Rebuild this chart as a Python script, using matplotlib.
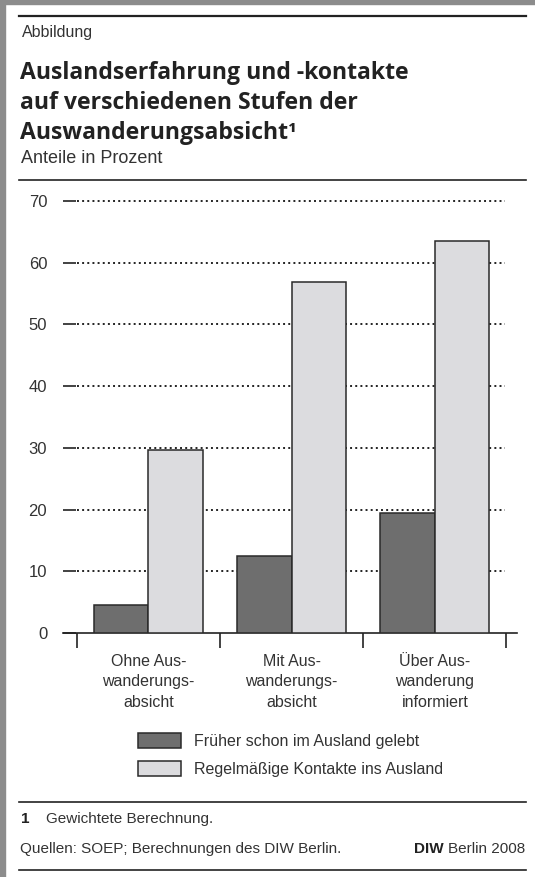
import matplotlib.pyplot as plt
from matplotlib.patches import Rectangle

# Werte aus der Abbildung (Anteile in Prozent)
kategorien = ["Ohne Aus-\nwanderungs-\nabsicht", "Mit Aus-\nwanderungs-\nabsicht", "Über Aus-\nwanderung\ninformiert"]
frueher_ausland = [4.6, 12.4, 19.5]
kontakte_ausland = [29.7, 56.8, 63.5]
serien = ["Früher schon im Ausland gelebt", "Regelmäßige Kontakte ins Ausland"]
y_ticks = [0, 10, 20, 30, 40, 50, 60, 70]

body = ["Liberation Sans", "DejaVu Sans"]
bold = ["Open Sans", "DejaVu Sans"]
txt_col = "#333333"

W, H = 535, 877
fig = plt.figure(figsize=(W / 100, H / 100), dpi=100)

def fy(py):
    return 1 - py / H

def fx(px):
    return px / W

# grauer Rahmen oben und links
fig.patches.append(Rectangle((0, fy(4)), 1, 4 / H, transform=fig.transFigure, color="#8c8c8c"))
fig.patches.append(Rectangle((0, 0), 5 / W, 1, transform=fig.transFigure, color="#8c8c8c"))

# horizontale Trennlinien
for py, lw in [(16, 1.6), (180, 1.2), (802, 1.2), (870, 1.2)]:
    fig.add_artist(plt.Line2D([fx(19), fx(526)], [fy(py), fy(py)], transform=fig.transFigure,
                              color="#222222", lw=lw))

fig.text(fx(22), fy(32), "Abbildung", family=body, fontsize=11.5, color=txt_col, va="center")
for py, zeile in [(79, "Auslandserfahrung und -kontakte"), (109, "auf verschiedenen Stufen der"),
                  (139, "Auswanderungsabsicht¹")]:
    fig.text(fx(20), fy(py), zeile, family=bold, fontsize=16.6, fontweight="bold",
             color="#222222", va="baseline")
fig.text(fx(21), fy(163), "Anteile in Prozent", family=body, fontsize=13, color=txt_col,
         va="baseline")

# Diagramm
ax = fig.add_axes([fx(62.5), fy(633), 454 / W, 432 / H])
x = list(range(len(kategorien)))
bw = 0.38
b1 = ax.bar([i - bw / 2 for i in x], frueher_ausland, width=bw, color="#6e6e6e",
            edgecolor="#2a2a2a", linewidth=1.1, zorder=3, label=serien[0])
b2 = ax.bar([i + bw / 2 for i in x], kontakte_ausland, width=bw, color="#dcdcdf",
            edgecolor="#2a2a2a", linewidth=1.1, zorder=3, label=serien[1])

ax.set_xlim(-0.6, 2.57)
ax.set_ylim(0, 70)
ax.hlines(y_ticks[1:], -0.5, 2.49, colors="#222222", linestyles=":", linewidth=1.4, zorder=1,
          clip_on=False)
ax.vlines([i - 0.5 for i in x] + [x[-1] + 0.5], 0, -2.5, colors="#222222", linewidth=1.2,
          clip_on=False)

for s in ["top", "right", "left"]:
    ax.spines[s].set_visible(False)
ax.spines["bottom"].set_color("#222222")
ax.spines["bottom"].set_linewidth(1.2)

ax.set_yticks(y_ticks)
ax.set_yticklabels([str(v) for v in y_ticks], family=body, fontsize=12, color=txt_col)
ax.tick_params(axis="y", direction="in", length=9.5, width=1.2, color="#222222", pad=11)
ax.set_xticks(x)
ax.set_xticklabels(kategorien, family=body, fontsize=11.5, color=txt_col, linespacing=1.45)
ax.tick_params(axis="x", length=0, pad=15)

fig.legend(handles=[b1, b2], labels=serien, loc="upper left",
           bbox_to_anchor=(fx(138), fy(733)), frameon=False,
           prop={"family": body, "size": 11.5}, handlelength=2.7, handleheight=1.1,
           handletextpad=0.8, labelspacing=0.75, borderpad=0, borderaxespad=0,
           labelcolor=txt_col)

# Fußnote und Quelle
fig.text(fx(21), fy(823), "1", family=body, fontsize=11, fontweight="bold", color="#222222",
         va="baseline")
fig.text(fx(46), fy(823), "Gewichtete Berechnung.", family=body, fontsize=11, color=txt_col,
         va="baseline")
fig.text(fx(20), fy(853), "Quellen: SOEP; Berechnungen des DIW Berlin.", family=body,
         fontsize=11, color=txt_col, va="baseline")
berlin = fig.text(fx(525), fy(853), "Berlin 2008", family=body, fontsize=11, color=txt_col,
                  va="baseline", ha="right")
fig.add_artist(plt.Annotation("DIW", xy=(0, 0), xycoords=berlin, xytext=(-3, 0),
                              textcoords="offset points", ha="right", va="bottom",
                              family=body, fontsize=11, fontweight="bold", color="#222222"))

fig.savefig("out.png", dpi=100, facecolor="white")
